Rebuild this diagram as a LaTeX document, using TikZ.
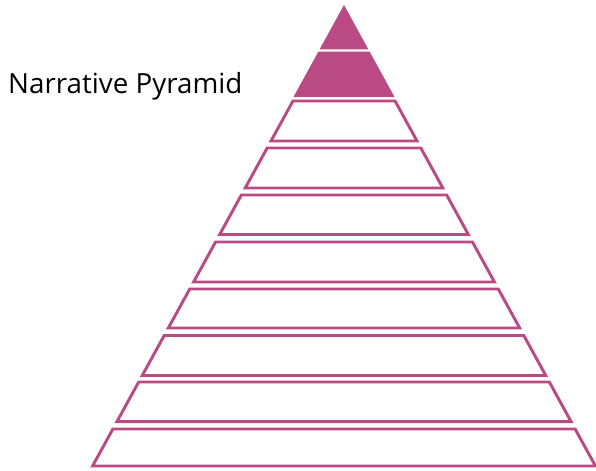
\documentclass[tikz,border=0pt]{standalone}
\usepackage{fontspec}
\setsansfont{Open Sans}
\usepackage{tikz}
\definecolor{pyrpink}{HTML}{BA4A83}
\tikzset{layer/.style={draw=pyrpink,line width=2.5pt,line join=miter},
full/.style={layer,fill=pyrpink},
empty/.style={layer,fill=white}}

\begin{document}
\begin{tikzpicture}[x=0.03cm,y=-0.03cm]
\useasboundingbox (0,0) rectangle (596,470);
\def\ax{344}\def\ay{8}\def\sl{0.549}
\node[anchor=base west,inner sep=0pt,font=\sffamily\fontsize{23.7}{28}\selectfont] (title) at (8,93) {Narrative Pyramid};
\draw[full] (\ax,\ay)--({\ax+\sl*(48-\ay)},48)--({\ax-\sl*(48-\ay)},48)--cycle;
\foreach \t/\b/\s in {53/95.5/full,101/141/empty,148/188/empty,195/234.5/empty,242/282/empty,289/328/empty,335.5/375.5/empty,382/421.7/empty,429/466/empty} {
\draw[\s] ({\ax-\sl*(\t-\ay)},\t)--({\ax+\sl*(\t-\ay)},\t)--({\ax+\sl*(\b-\ay)},\b)--({\ax-\sl*(\b-\ay)},\b)--cycle;}
\end{tikzpicture}
\end{document}
